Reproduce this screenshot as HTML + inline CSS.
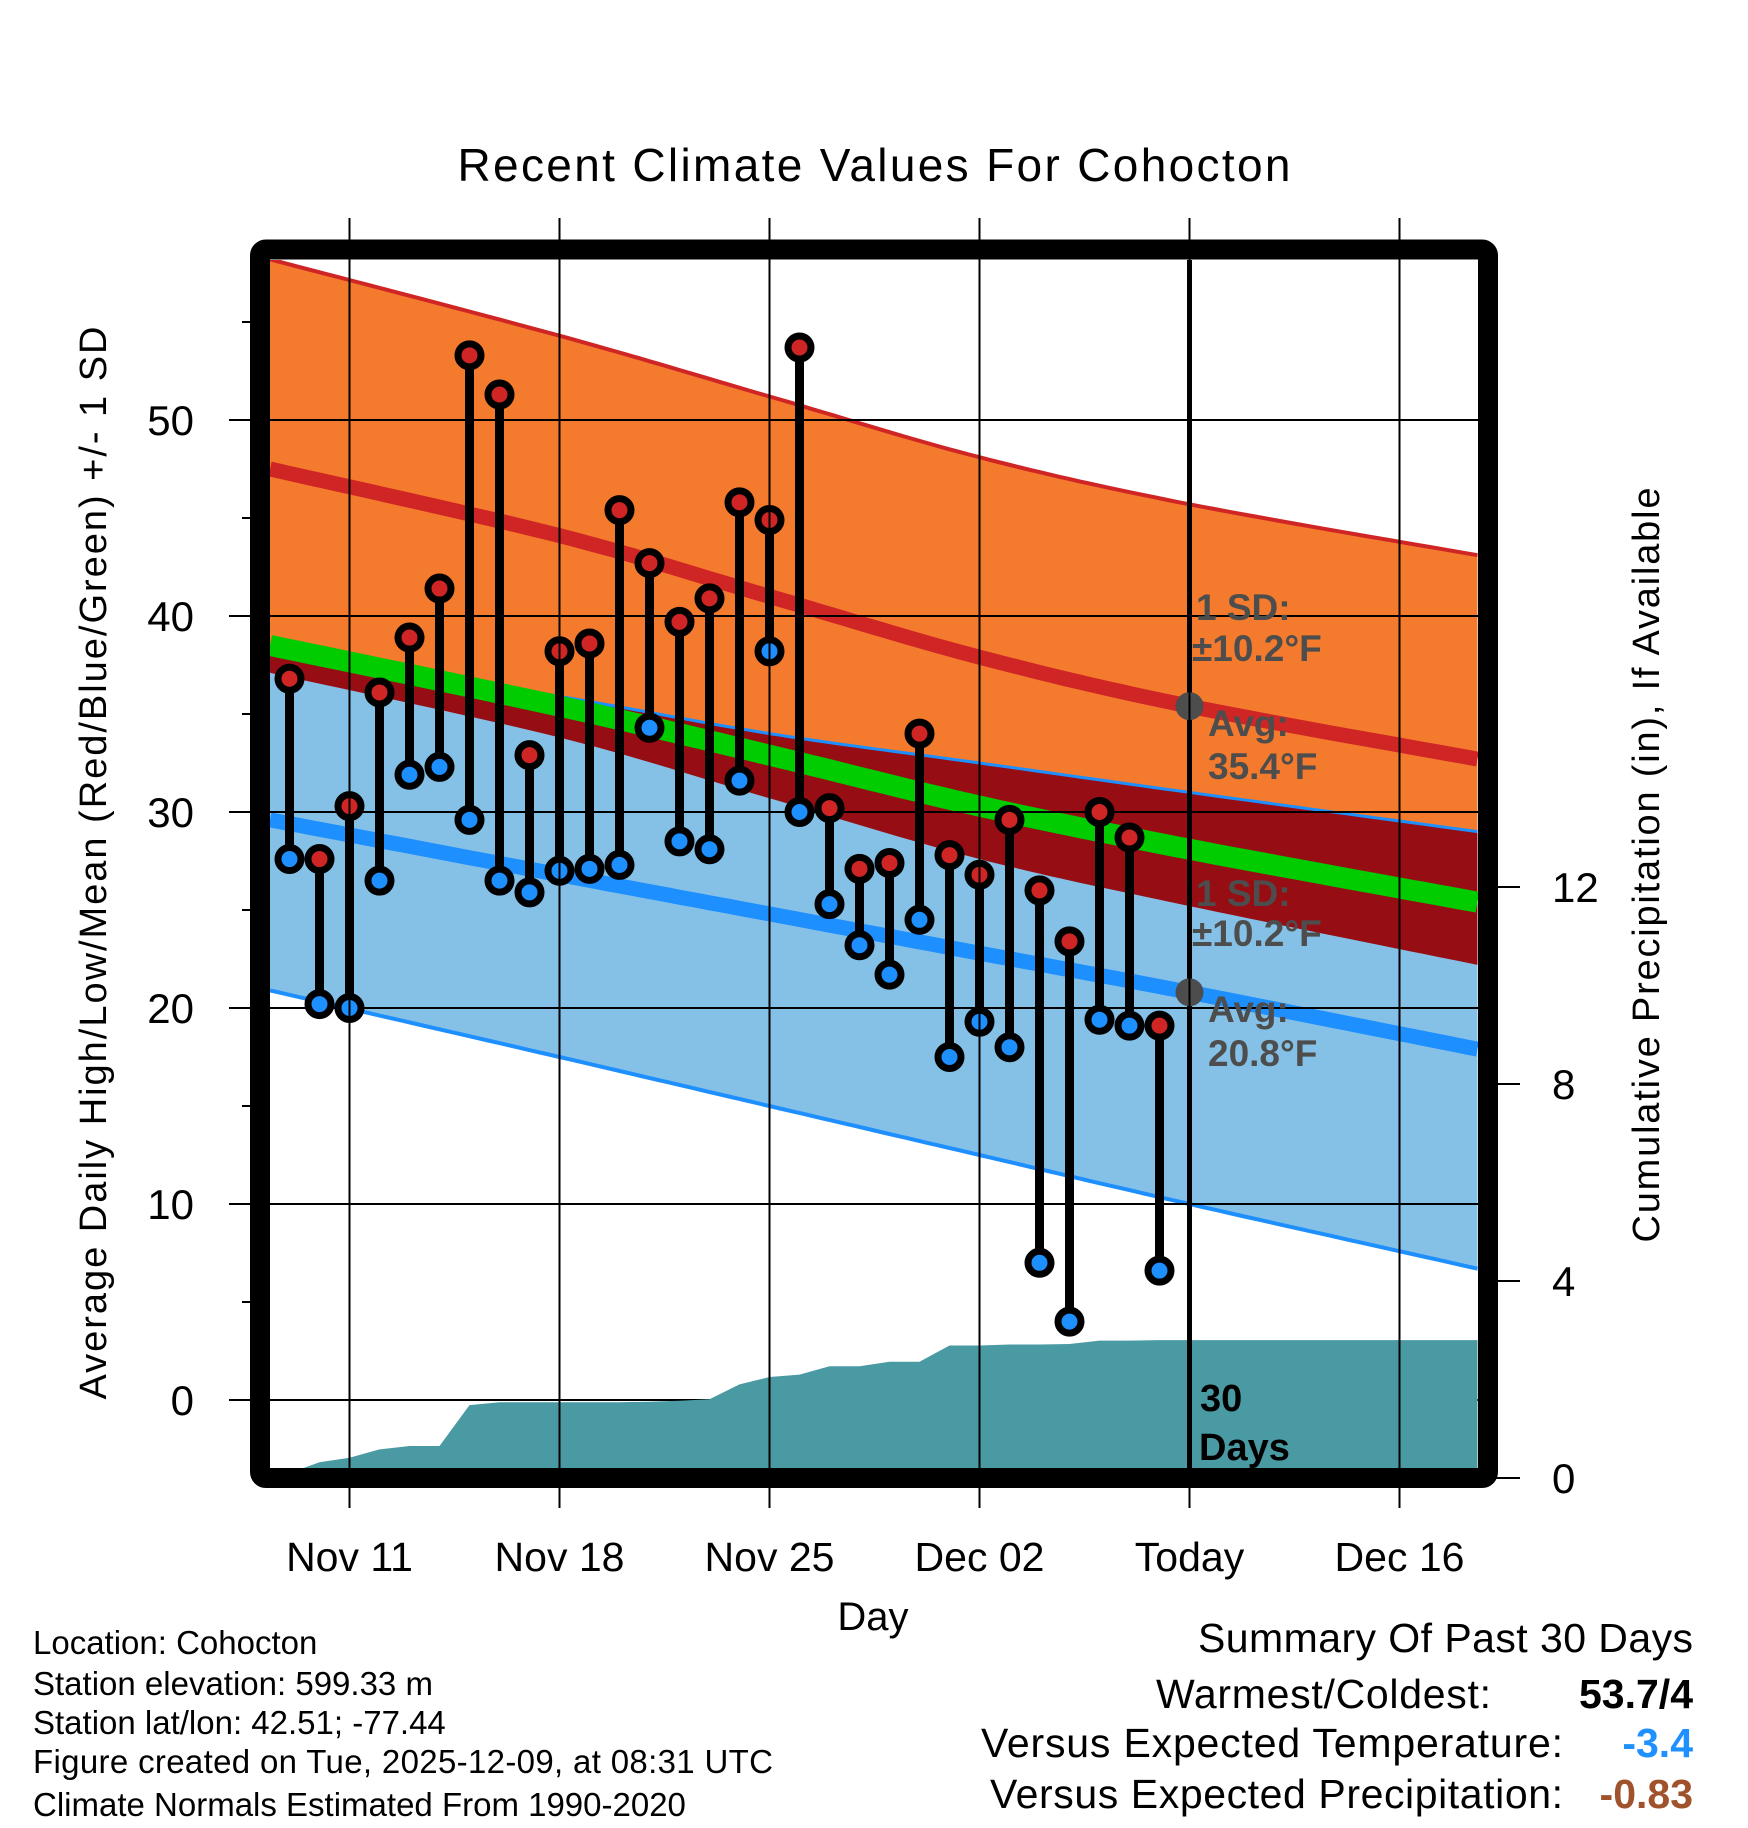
<!DOCTYPE html>
<html><head><meta charset="utf-8"><style>
html,body{margin:0;padding:0;background:#fff}
svg{display:block;font-family:"Liberation Sans",sans-serif}
</style></head><body>
<svg id="chart" width="1748" height="1828" viewBox="0 0 1748 1828" xmlns="http://www.w3.org/2000/svg">
<defs><clipPath id="plotclip"><rect x="270" y="260" width="1208" height="1208"/></clipPath></defs>
<rect x="0" y="0" width="1748" height="1828" fill="#fff"/>
<text x="874" y="181" font-size="46" text-anchor="middle" textLength="833">Recent Climate Values For Cohocton</text>
<g id="plot" clip-path="url(#plotclip)"></g>
<g id="over"></g>
<rect x="260" y="249.5" width="1228" height="1228.5" rx="6" fill="none" stroke="#000" stroke-width="20"/>
<g id="axes"></g>
<text transform="translate(106,863) rotate(-90)" font-size="38" text-anchor="middle" textLength="1073">Average Daily High/Low/Mean (Red/Blue/Green) +/- 1 SD</text>
<text transform="translate(1659,865) rotate(-90)" font-size="38" text-anchor="middle" textLength="755">Cumulative Precipitation (in), If Available</text>
<text x="873" y="1630" font-size="40" text-anchor="middle">Day</text>
<g font-size="33">
<text x="33" y="1654">Location: Cohocton</text>
<text x="33" y="1695">Station elevation: 599.33 m</text>
<text x="33" y="1734">Station lat/lon: 42.51; -77.44</text>
<text x="33" y="1773" textLength="740">Figure created on Tue, 2025-12-09, at 08:31 UTC</text>
<text x="33" y="1816">Climate Normals Estimated From 1990-2020</text>
</g>
<g font-size="41">
<text x="1693" y="1652" text-anchor="end" textLength="495">Summary Of Past 30 Days</text>
<text x="1491" y="1708" text-anchor="end" textLength="335">Warmest/Coldest:</text>
<text x="1693" y="1708" text-anchor="end" font-weight="bold">53.7/4</text>
<text x="1563" y="1757" text-anchor="end" textLength="582">Versus Expected Temperature:</text>
<text x="1693" y="1757" text-anchor="end" font-weight="bold" fill="#1e90ff">-3.4</text>
<text x="1563" y="1808" text-anchor="end" textLength="573">Versus Expected Precipitation:</text>
<text x="1693" y="1808" text-anchor="end" font-weight="bold" fill="#a0522d">-0.83</text>
</g>
<script>
// Normals (days relative to Nov 11)
const normDays = [-2.65, 7, 14, 21, 28, 37.6];
const highPlusSD = [58.2, 54.3, 51.2, 48.1, 45.7, 43.1];
const highMean = [47.5, 44.1, 41.0, 37.9, 35.4, 32.7];
const highMinusSD = [37.1, 33.8, 30.7, 27.6, 25.2, 22.2];
const lowPlusSD = [38.3, 35.9, 34.0, 32.5, 31.0, 29.0];
const lowMean = [29.6, 26.8, 24.8, 22.8, 20.8, 17.9];
const lowMinusSD = [20.9, 17.5, 15.0, 12.5, 10.0, 6.7];
const meanLine = [38.5, 35.4, 32.9, 30.3, 28.1, 25.4];
// Observations Nov 9 .. Dec 8
const obsDays = [-2,-1,0,1,2,3,4,5,6,7,8,9,10,11,12,13,14,15,16,17,18,19,20,21,22,23,24,25,26,27];
const highs = [36.8,27.6,30.3,36.1,38.9,41.4,53.3,51.3,32.9,38.2,38.6,45.4,42.7,39.7,40.9,45.8,44.9,53.7,30.2,27.1,27.4,34.0,27.8,26.8,29.6,26.0,23.4,30.0,28.7,19.1];
const lows = [27.6,20.2,20.0,26.5,31.9,32.3,29.6,26.5,25.9,27.0,27.1,27.3,34.3,28.5,28.1,31.6,38.2,30.0,25.3,23.2,21.7,24.5,17.5,19.3,18.0,7.0,4.0,19.4,19.1,6.6];
const precipDays = [-2,-1,0,1,2,3,4,5,6,7,8,9,10,11,12,13,14,15,16,17,18,19,20,21,22,23,24,25,26,27,28,37.6];
const precipCum = [0.1,0.32,0.41,0.58,0.65,0.65,1.48,1.54,1.54,1.54,1.54,1.54,1.55,1.57,1.6,1.9,2.05,2.1,2.27,2.27,2.36,2.36,2.69,2.69,2.71,2.71,2.72,2.79,2.79,2.8,2.8,2.8];
const tempTicks = [0,10,20,30,40,50];
const precipTicks = [0,4,8,12];
const dateTickDays = [0,7,14,21,28,35];
const dateTickLabels = ["Nov 11","Nov 18","Nov 25","Dec 02","Today","Dec 16"];
const todayDay = 28;
const todayHigh = 35.4, todayLow = 20.8;

const NS = "http://www.w3.org/2000/svg";
const xS = d => 349.5 + 30 * d;
const yT = t => 1400 - 19.6 * t;
const yP = p => 1478 - 49.25 * p;
function mk(tag, attrs, parent) {
  const e = document.createElementNS(NS, tag);
  for (const k in attrs) e.setAttribute(k, attrs[k]);
  parent.appendChild(e);
  return e;
}
const plot = document.getElementById('plot');
const over = document.getElementById('over');
const axes = document.getElementById('axes');
// smooth (catmull-rom) sampling of a normal curve
function smooth(vals) {
  const out = [];
  const n = normDays.length;
  for (let i = 0; i < n - 1; i++) {
    const p0 = [xS(normDays[Math.max(i - 1, 0)]), yT(vals[Math.max(i - 1, 0)])];
    const p1 = [xS(normDays[i]), yT(vals[i])];
    const p2 = [xS(normDays[i + 1]), yT(vals[i + 1])];
    const p3 = [xS(normDays[Math.min(i + 2, n - 1)]), yT(vals[Math.min(i + 2, n - 1)])];
    for (let s = 0; s < 20; s++) {
      const t = s / 20, t2 = t * t, t3 = t2 * t;
      const f = k => 0.5 * ((2 * p1[k]) + (-p0[k] + p2[k]) * t + (2 * p0[k] - 5 * p1[k] + 4 * p2[k] - p3[k]) * t2 + (-p0[k] + 3 * p1[k] - 3 * p2[k] + p3[k]) * t3);
      out.push(f(0).toFixed(1) + ',' + f(1).toFixed(1));
    }
  }
  out.push(xS(normDays[n - 1]).toFixed(1) + ',' + yT(vals[n - 1]).toFixed(1));
  return out;
}
function band(top, bot, fill, name) {
  const p = smooth(top).concat(smooth(bot).reverse());
  const e = mk('polygon', {points: p.join(' '), fill: fill}, plot);
  
  
}
function line(vals, color, w, name) {
  const e = mk('polyline', {points: smooth(vals).join(' '), fill: 'none', stroke: color, 'stroke-width': w}, plot);
  
  
}
band(highPlusSD, highMinusSD, '#f47a2d', 'high-sd-band');
line(highPlusSD, '#d02525', 4, 'high-plus-sd-line');
band(lowPlusSD, lowMinusSD, '#85c1e6', 'low-sd-band');
band(lowPlusSD, highMinusSD, '#960e14', 'overlap-band');
line(lowPlusSD, '#1e8fff', 3, 'low-plus-sd-line');
line(lowMinusSD, '#1e8fff', 4, 'low-minus-sd-line');
line(meanLine, '#00cc00', 21, 'mean-line');
line(highMean, '#d02525', 15, 'high-mean-line');
line(lowMean, '#1e8fff', 15, 'low-mean-line');
tempTicks.forEach(t => {
  const g = mk('line', {x1: 270, x2: 1478, y1: yT(t), y2: yT(t), stroke: '#000', 'stroke-width': 2}, plot);
  
  
});
dateTickDays.forEach(d => {
  const g = mk('line', {x1: xS(d), x2: xS(d), y1: 218, y2: 1508, stroke: '#000', 'stroke-width': 2}, axes);
  
  
});
{
  const p = precipDays.map((d, i) => xS(d).toFixed(1) + ',' + yP(precipCum[i]).toFixed(1));
  p.push(xS(precipDays[precipDays.length - 1]).toFixed(1) + ',1480');
  p.push(xS(precipDays[0]).toFixed(1) + ',1480');
  const e = mk('polygon', {points: p.join(' '), fill: '#4a9aa3'}, plot);
  
  
}
{
  const e = mk('line', {x1: xS(todayDay), x2: xS(todayDay), y1: 255, y2: 1470, stroke: '#000', 'stroke-width': 5}, plot);
  
  
}
function txt(x, y, s, attrs, parent, name) {
  const e = mk('text', attrs, parent);
  e.setAttribute('x', x); e.setAttribute('y', y);
  e.textContent = s;
  
  
  return e;
}
const ann = {'font-size': 37, 'font-weight': 'bold', fill: '#4d4d4d'};
txt(1196, 620, '1 SD:', ann, over, 'high-sd-label');
txt(1192, 661, '±10.2°F', ann, over, 'high-sd-value');
txt(1208, 736, 'Avg:', ann, over, 'high-avg-label');
txt(1208, 779, todayHigh + '°F', ann, over, 'high-avg-value');
txt(1196, 906, '1 SD:', ann, over, 'low-sd-label');
txt(1192, 946, '±10.2°F', ann, over, 'low-sd-value');
txt(1208, 1022, 'Avg:', ann, over, 'low-avg-label');
txt(1208, 1066, todayLow + '°F', ann, over, 'low-avg-value');
[todayHigh, todayLow].forEach(v => {
  const c = mk('circle', {cx: xS(todayDay), cy: yT(v), r: 14, fill: '#4d4d4d'}, over);
  
  
});
txt(1200, 1411, '30', {'font-size': 38, 'font-weight': 'bold'}, over, 'days-label-30');
txt(1199, 1460, 'Days', {'font-size': 38, 'font-weight': 'bold'}, over, 'days-label');
obsDays.forEach((d, i) => {
  const s = mk('line', {x1: xS(d), x2: xS(d), y1: yT(highs[i]), y2: yT(lows[i]), stroke: '#000', 'stroke-width': 9}, over);
  
  
});
obsDays.forEach((d, i) => {
  const h = mk('circle', {cx: xS(d), cy: yT(highs[i]), r: 11.5, fill: '#d02525', stroke: '#000', 'stroke-width': 7}, over);
  
  
  const l = mk('circle', {cx: xS(d), cy: yT(lows[i]), r: 11.5, fill: '#1e8fff', stroke: '#000', 'stroke-width': 7}, over);
  
  
});
tempTicks.forEach(t => {
  const k = mk('line', {x1: 229, x2: 252, y1: yT(t), y2: yT(t), stroke: '#000', 'stroke-width': 2}, axes);
  
  
  txt(194, yT(t) + 15, String(t), {'font-size': 42, 'text-anchor': 'end'}, axes, 'y-tick-label');
  const m = mk('line', {x1: 242, x2: 252, y1: yT(t + 5), y2: yT(t + 5), stroke: '#000', 'stroke-width': 2}, axes);
  
  
});
precipTicks.forEach(p => {
  const k = mk('line', {x1: 1496, x2: 1520, y1: yP(p), y2: yP(p), stroke: '#000', 'stroke-width': 2}, axes);
  
  
  txt(1552, yP(p) + 15, String(p), {'font-size': 42}, axes, 'y2-tick-label');
});
dateTickDays.forEach((d, i) => {
  txt(xS(d), 1571, dateTickLabels[i], {'font-size': 41, 'text-anchor': 'middle'}, axes, 'x-tick-label');
});
</script>
</svg>
</body></html>
